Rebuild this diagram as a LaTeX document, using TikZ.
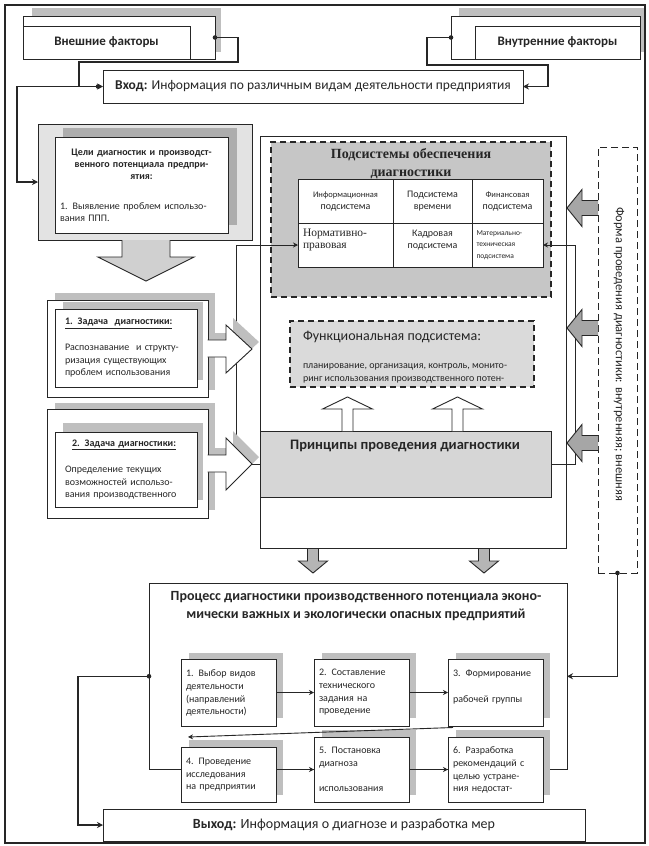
\documentclass[tikz,border=0pt]{standalone}
\usepackage{fontspec}
\setmainfont{Carlito}
\newfontfamily\serifru{Liberation Serif}
\usetikzlibrary{arrows.meta,calc}
\newcommand\fsz[2]{\fontsize{#1}{#2}\selectfont}
\definecolor{ln}{HTML}{262626}
\definecolor{shd}{HTML}{BFBFBF}
\definecolor{shdk}{HTML}{ADADAD}
\definecolor{gl}{HTML}{E3E3E3}
\definecolor{sg}{HTML}{C6C6C6}
\definecolor{fg}{HTML}{DADADA}
\definecolor{pg}{HTML}{D6D6D6}
\definecolor{ag}{HTML}{A6A6A6}
\definecolor{dg}{HTML}{B5B5B5}
\definecolor{bg}{HTML}{D0D0D0}
% name, style, x1, y1, x2, y2, text
\newcommand\rbox[7]{%
  \node[#2, minimum width={(#5)-(#3)}, minimum height={(#6)-(#4)}] (#1)
    at ({((#3)+(#5))/2},{((#4)+(#6))/2}) {#7};}
\begin{document}
\begin{tikzpicture}[x=1pt,y=-1pt,
  every node/.style={inner sep=0pt, outer sep=0pt, text=ln},
  box/.style={draw=ln, line width=0.9pt, fill=white},
  dbox/.style={draw=ln, line width=1.7pt, dash pattern=on 6pt off 4pt},
  dboxthin/.style={draw=ln, line width=1pt, dash pattern=on 7pt off 4pt, fill=white},
  thk/.style={draw=ln, line width=1.5pt, -{Stealth[length=6pt,width=6pt]}},
  thn/.style={draw=ln, line width=0.9pt, -{Stealth[length=5pt,width=5pt]}},
  blk/.style={draw=ln, line width=0.9pt, line join=miter},
  txt/.style={align=left},
]
\useasboundingbox (0,0) rectangle (648,846);
\fill[white] (0,0) rectangle (648,846);
\draw[ln, line width=1.2pt] (5,5) rectangle (645,843);

% ---------- top factors ----------
\fill[shd] (32,8) rectangle (221,52);
\rbox{extout}{box}{23}{16}{215}{59}{}
\rbox{ext}{box}{23}{26}{190}{59}{\fsz{13}{15}\bfseries Внешние факторы}
\fill[shd] (459,8) rectangle (644,52);
\rbox{intout}{box}{451}{16}{640}{59}{}
\rbox{int}{box}{475}{26}{640}{59}{\fsz{13}{15}\bfseries Внутренние факторы}

\rbox{in}{box}{103}{70}{523}{103}{\fsz{13.5}{15}\textbf{Вход:} Информация по различным видам деятельности предприятия}

\draw[thk] (extout.east) -- (238,37.5) -- (238,62) -- (79,62) |- (in.west);
\fill[ln] (extout.east) circle (2.3);
\draw[thk] (intout.west) -- (427,37.5) -- (427,65) -- (548,65) |- (in.east);
\fill[ln] (intout.west) circle (2.3);

% ---------- goals ----------
\rbox{goals}{box, fill=gl}{38}{124}{252}{240}{}
\fill[shdk] (63,128) rectangle (237,225);
\rbox{goalsin}{box, text width=163, txt}{55}{137}{228}{233}{\fsz{10}{12}%
{\centering\bfseries Цели диагностик и производст-\\венного потенциала предпри-\\ятия:\par}\vspace{18pt}%
{\raggedright 1. Выявление проблем использо-\\вания ППП.\par}}
\coordinate (jin) at (98,86.5);
\draw[thk] (jin) -- (17,86.5) |- (goals.west);
\fill[ln] (jin) circle (2.3);
\filldraw[blk, fill=bg] (122,240) -- (122,257) -- (98,257) -- (146,281) -- (194,257) -- (170,257) -- (170,240);

% ---------- main box ----------
\rbox{main}{box}{260}{136}{566}{548}{}

% subsystems
\rbox{subs}{dbox, fill=sg}{271}{142}{551}{297}{}
\node[font=\serifru\bfseries\fsz{14}{18}, align=center] (substitle) at (411,164) {Подсистемы обеспечения\\диагностики};
\rbox{c11}{box, align=center}{298}{179}{393}{223}{\fsz{8.5}{10}Информационная\\подсистема}
\rbox{c12}{box, align=center}{393}{179}{472}{223}{\fsz{10}{13}Подсистема\\времени}
\rbox{c13}{box, align=center}{472}{179}{543}{223}{\fsz{8.5}{10}Финансовая\\подсистема}
\rbox{c21}{box, text width=85, txt}{298}{223}{393}{267}{\serifru\fsz{11.5}{12}Нормативно-\\правовая\\\mbox{}}
\rbox{c22}{box, align=center}{393}{223}{472}{267}{\fsz{10}{12}Кадровая\\подсистема\\\mbox{}}
\rbox{c23}{box, text width=62, txt}{472}{223}{543}{267}{\fsz{7.5}{11}Материально-\\техническая\\подсистема}

% functional
\rbox{func}{dbox, fill=fg}{290}{321}{534}{387}{}
\node[anchor=west, font=\fsz{14}{16}] (functitle) at (303,337) {Функциональная подсистема:};
\node[anchor=west, txt, font=\fsz{10}{13}] (functext) at (303,373.5) {планирование, организация, контроль, монито-\\ринг использования производственного потен-};

% principles
\rbox{princ}{box, fill=pg}{260}{431}{551}{497}{}
\node[font=\bfseries\fsz{14.5}{16}] (princtext) at (405,446) {Принципы проведения диагностики};

% white up arrows
\foreach \cx in {347.5,457.5}{
  \filldraw[blk, fill=white] (\cx-5.5,431) -- (\cx-5.5,409) -- (\cx-25,409) -- (\cx,397) -- (\cx+25,409) -- (\cx+5.5,409) -- (\cx+5.5,431);
}

% connectors to table
\draw[thn] (princ.west) -- (236,464) |- (c21.west);
\draw[thn] (princ.east) -- (575,464) |- (c23.east);

% ---------- tasks ----------
\fill[shd] (55,293) rectangle (215,390);
\begin{scope}[shift={(7,-7)}]
  \fill[shd] (207.5,340) -- (226,340) -- (226,325) -- (252,349) -- (226,373) -- (226,357) -- (207.5,357) -- cycle;
\end{scope}
\rbox{t1out}{box}{47}{300}{208}{397}{}
\fill[shd] (63,302) rectangle (203,380);
\rbox{t1}{box, text width=122, txt}{55}{309}{197}{387}{\fsz{10}{13}\textbf{\underline{1. Задача\ \ диагностики:}}\\\mbox{}\\Распознавание\ \ и структу-\\ризация существующих\\проблем использования}
\fill[white] (207.5,340) -- (226,340) -- (226,325) -- (252,349) -- (226,373) -- (226,357) -- (207.5,357) -- cycle;
\draw[blk] (207.5,340) -- (226,340) -- (226,325) -- (252,349) -- (226,373) -- (226,357) -- (207.5,357);

\fill[shd] (55,403) rectangle (215,510);
\begin{scope}[shift={(7,-7)}]
  \fill[shd] (207.5,455) -- (226,455) -- (226,438) -- (252,464) -- (226,490) -- (226,472) -- (207.5,472) -- cycle;
\end{scope}
\rbox{t2out}{box}{47}{409}{208}{518}{}
\fill[shd] (63,423) rectangle (203,500);
\rbox{t2}{box, text width=122, txt}{55}{432}{197}{507}{\fsz{10}{13}\hspace*{7pt}\textbf{\underline{2. Задача диагностики:}}\\\mbox{}\\Определение текущих\\возможностей использо-\\вания производственного}
\fill[white] (207.5,455) -- (226,455) -- (226,438) -- (252,464) -- (226,490) -- (226,472) -- (207.5,472) -- cycle;
\draw[blk] (207.5,455) -- (226,455) -- (226,438) -- (252,464) -- (226,490) -- (226,472) -- (207.5,472);

% ---------- form box ----------
\rbox{form}{dboxthin}{598}{147}{637}{573}{}
\node[rotate=-90, font=\fsz{12.5}{14}] (formtext) at (619,354) {Форма проведения диагностики: внутренняя; внешняя};
\foreach \yc in {208,328,443}{
  \filldraw[blk, fill=ag] (598,\yc-7.5) -- (582,\yc-7.5) -- (582,\yc-18.5) -- (567,\yc) -- (582,\yc+18.5) -- (582,\yc+7.5) -- (598,\yc+7.5);
}

% down arrows under main box
\foreach \cx in {313,484}{
  \filldraw[blk, fill=dg] (\cx-5.5,549) -- (\cx-5.5,561) -- (\cx-14.5,561) -- (\cx,573) -- (\cx+14.5,561) -- (\cx+5.5,561) -- (\cx+5.5,549);
}

% ---------- process ----------
\rbox{proc}{box}{149}{583}{567}{769.5}{}
\node[font=\bfseries\fsz{14}{18}, align=center] (proctitle) at (356,606) {Процесс диагностики производственного потенциала эконо-\\мически важных и экологически опасных предприятий};

\fill[shd] (189,653) rectangle (283,718);
\fill[shd] (322,653) rectangle (416,718);
\fill[shd] (456,653) rectangle (550,718);
\fill[shd] (189,740) rectangle (283,795);
\fill[shd] (322,730) rectangle (416,795);
\fill[shd] (456,730) rectangle (550,795);
\rbox{s1}{box, text width=85, txt}{181}{659}{276}{726}{\fsz{10}{13}1. Выбор видов\\деятельности\\(направлений\\деятельности)}
\rbox{s2}{box, text width=85, txt}{314}{659}{409}{726}{\fsz{10}{13}2. Составление\\технического\\задания на\\проведение}
\rbox{s3}{box, text width=85, txt}{448}{659}{543}{726}{\fsz{10}{13}3. Формирование\\\mbox{}\\рабочей группы\\\mbox{}}
\rbox{s4}{box, text width=85, txt}{181}{747}{276}{802}{\fsz{10}{13}4. Проведение\\исследования\\на предприятии}
\rbox{s5}{box, text width=85, txt}{314}{737}{409}{802}{\fsz{10}{13}5. Постановка\\диагноза\\\mbox{}\\использования}
\rbox{s6}{box, text width=85, txt}{448}{737}{543}{802}{\fsz{10}{13}6. Разработка\\рекомендаций с\\целью устране-\\ния недостат-}

\draw[thn] (s1.east) -- (s2.west);
\draw[thn] (s2.east) -- (s3.west);
\draw[thn] ($(s3.south west)+(5,1.5)$) -- ($(s4.north west)+(7,-10)$);
\draw[thn] (s4.east |- s5.west) -- (s5.west);
\draw[thn] (s5.east) -- (s6.west);

% ---------- output ----------
\rbox{out}{box}{103}{809}{585}{841}{\fsz{14}{16}\textbf{Выход:} Информация о диагнозе и разработка мер}

\draw[thk] (form.south) |- (proc.east);
\fill[ln] (form.south) circle (2.3);
\draw[thk] (proc.west) -- (78,676.25) |- (out.west);
\fill[ln] (proc.west) circle (2.3);
\end{tikzpicture}
\end{document}
